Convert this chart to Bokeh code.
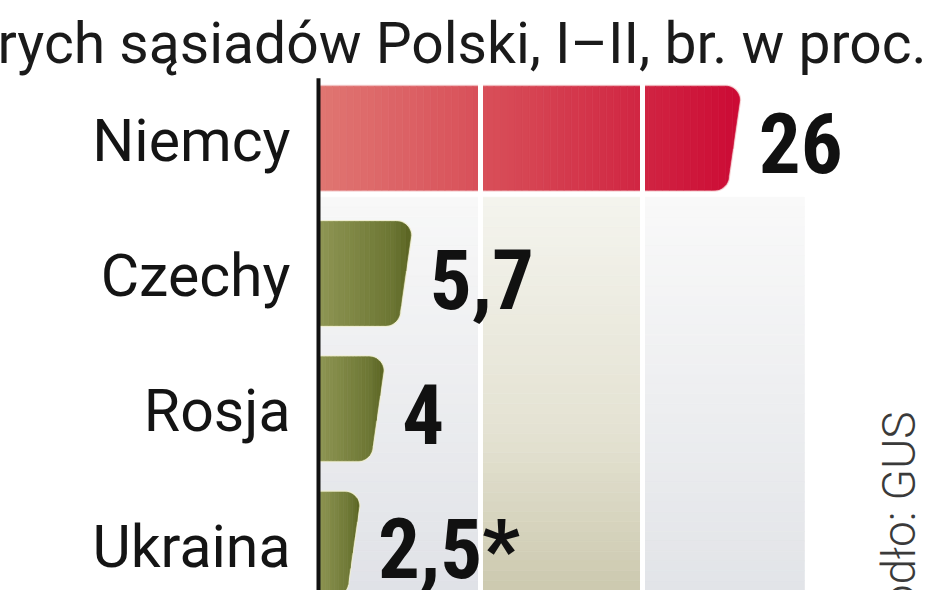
import numpy as np
from bokeh.plotting import figure
from bokeh.models import Range1d
from bokeh.core.properties import value
from bokeh.embed import file_html
from bokeh.resources import INLINE

# ---------------- data ----------------
title_text = "rych sąsiadów Polski, I–II, br. w proc."
countries = ["Niemcy", "Czechy", "Rosja", "Ukraina"]
shares = [26, 5.7, 4, 2.5]
footnotes = ["", "", "", "*"]
bar_styles = ["red", "olive", "olive", "olive"]
grid_ticks = [10, 20]
band_edges = [0, 10, 20, 30]
source_text = "Źródło: GUS"

# ---------------- layout constants (pixels) ----------------
W, H = 945, 590
PX_X = 16.2          # pixels per percentage point
PX_Y = 135.3         # pixels per category row
X0 = 318             # pixel position of value 0
Y0 = 137.7           # pixel position of the first row centre

x_start, x_end = -X0 / PX_X, (W - X0) / PX_X
y_top, y_bot = -Y0 / PX_Y, (H - Y0) / PX_Y

def dx(px):
    return px / PX_X

def dy(px):
    return px / PX_Y

p = figure(width=W, height=H, output_backend="svg", toolbar_location=None,
           x_range=Range1d(x_start, x_end), y_range=Range1d(y_bot, y_top),
           x_axis_location=None, y_axis_location=None, min_border=0,
           background_fill_color="white", border_fill_color="white")
p.grid.visible = False
p.outline_line_color = None

def hex2rgb(h):
    h = h.lstrip("#")
    return np.array([int(h[i:i + 2], 16) for i in (0, 2, 4)], dtype=float)

def interp(stops, t):
    t = min(max(t, 0.0), 1.0)
    for (a, ca), (b, cb) in zip(stops[:-1], stops[1:]):
        if a <= t <= b:
            f = (t - a) / (b - a) if b > a else 0
            c = hex2rgb(ca) * (1 - f) + hex2rgb(cb) * f
            return "#%02x%02x%02x" % tuple(int(round(v)) for v in c)
    return stops[-1][1]

# ---------------- background bands (vertical gradient) ----------------
band_stops = [
    [(0, "#f8f8f8"), (1, "#e0e2e7")],
    [(0, "#f4f4ee"), (0.6, "#e4e2d2"), (1, "#ccc9af")],
    [(0, "#f9f9f9"), (1, "#e2e4e8")],
]
band_top = dy(52 + 7)
n_slices = 40
bl, br, bt, bb, bc = [], [], [], [], []
edges_y = np.linspace(band_top, y_bot, n_slices + 1)
for i in range(len(band_edges) - 1):
    for k in range(n_slices):
        bl.append(band_edges[i]); br.append(band_edges[i + 1])
        bt.append(edges_y[k]); bb.append(edges_y[k + 1])
        bc.append(interp(band_stops[i], (k + 0.5) / n_slices))
p.quad(left=bl, right=br, top=bt, bottom=bb, fill_color=bc, line_color=bc, line_width=0.6)

# ---------------- bars ----------------
hh = dy(52)
rx, ry = dx(14), dy(14)
slant = dx(11)

def bar_poly(v, c):
    top, bot = c - hh, c + hh
    pts = [(0.0, bot), (0.0, top)]
    for t in np.linspace(-np.pi / 2, 0, 12):
        pts.append((v - rx + rx * np.cos(t), top + ry + ry * np.sin(t)))
    for t in np.linspace(0, np.pi / 2, 12):
        pts.append((v - slant - rx + rx * np.cos(t), bot - ry + ry * np.sin(t)))
    return pts

def clip_half(pts, keep, inter):
    out = []
    n = len(pts)
    for i in range(n):
        P, Q = pts[i], pts[(i + 1) % n]
        pin, qin = keep(P), keep(Q)
        if pin:
            out.append(P)
        if pin != qin:
            out.append(inter(P, Q))
    return out

def ix(P, Q, xv):
    t = (xv - P[0]) / (Q[0] - P[0])
    return (xv, P[1] + t * (Q[1] - P[1]))

def clip(poly, a, b):
    pts = clip_half(poly, lambda q: q[0] >= a, lambda P, Q: ix(P, Q, a))
    if not pts:
        return pts
    pts = clip_half(pts, lambda q: q[0] <= b, lambda P, Q: ix(P, Q, b))
    return pts

style_stops = {
    "red": [(0, "#e07672"), (0.5, "#d64452"), (1, "#cc0a35")],
    "olive": [(0, "#8f9654"), (0.8, "#6c7633"), (1, "#5a6422")],
}
style_edge = {"red": "#f6d6d8", "olive": "#efeed2"}

sx, sy, sc = [], [], []
ox, oy, oc = [], [], []
for i, (v, st) in enumerate(zip(shares, bar_styles)):
    poly = bar_poly(v, i)
    ox.append([q[0] for q in poly]); oy.append([q[1] for q in poly]); oc.append(style_edge[st])
    n = 60 if v > 10 else 18
    xs_ = np.linspace(0, v, n + 1)
    for k in range(n):
        seg = clip(poly, xs_[k], xs_[k + 1])
        if len(seg) < 3:
            continue
        sx.append([q[0] for q in seg]); sy.append([q[1] for q in seg])
        sc.append(interp(style_stops[st], (k + 0.5) / n))

p.patches(xs=ox, ys=oy, fill_color=None, line_color=oc, line_width=3)
p.patches(xs=sx, ys=sy, fill_color=sc, line_color=sc, line_width=0.7)

# white separators at grid ticks
sep_top = -hh - dy(2)
p.segment(x0=grid_ticks, x1=grid_ticks, y0=[sep_top] * len(grid_ticks), y1=[y_bot] * len(grid_ticks),
          line_color="white", line_width=5)

# vertical axis line
p.segment(x0=[0], x1=[0], y0=[-dy(60)], y1=[y_bot], line_color="#111111", line_width=4)

# ---------------- texts ----------------
# category labels
p.text(x=[dx(-28)] * len(countries), y=list(range(len(countries))), text=countries,
       text_align="right", text_baseline="alphabetic", y_offset=2,
       text_font=value("Roboto"), text_font_size="59px", text_color="#141414")

# value labels
val_font = ("'Liberation Sans Narrow', 'Noto Sans Condensed', 'Roboto Condensed', "
            "'DejaVu Sans Condensed', 'Arial Narrow', Roboto, sans-serif")
val_labels = [("%g" % v).replace(".", ",") + f for v, f in zip(shares, footnotes)]
p.text(x=shares, y=list(range(len(shares))), text=val_labels,
       text_align="left", text_baseline="alphabetic", x_offset=19, y_offset=5,
       text_font=value(val_font), text_font_style="bold",
       text_font_size="83px", text_color="#111111")

# title (cropped at the left, as in the reference)
p.text(x=[dx(-X0 - 3)], y=[dy(43 - Y0)], text=[title_text],
       text_align="left", text_baseline="alphabetic",
       text_font=value("Roboto"), text_font_size="57px", text_color="#1a1a1a")

# source, rotated
p.text(x=[dx(898 - X0)], y=[dy(411 - Y0)], text=[source_text], angle=np.pi / 2,
       text_align="right", text_baseline="alphabetic",
       text_font=value("'Roboto Light', Roboto, sans-serif"), text_font_size="46px",
       text_color="#3a3a3a")

open("out.html", "w").write(file_html(p, INLINE))
